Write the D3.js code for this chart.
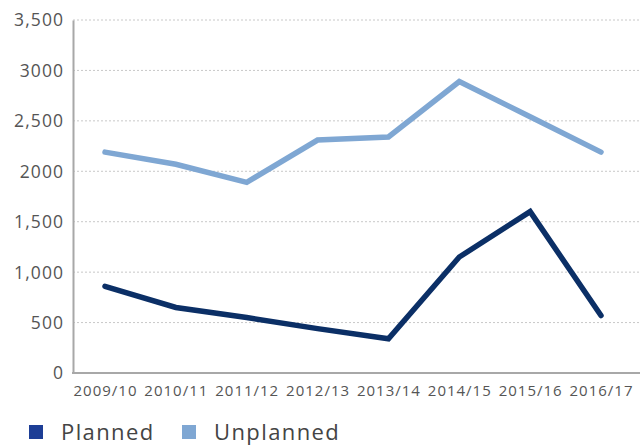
<!DOCTYPE html>
<html>
<head>
<meta charset="utf-8">
<script src="https://cdn.jsdelivr.net/npm/d3@7"></script>
<style>
  html, body { margin: 0; padding: 0; background: #fff; overflow: hidden; }
  svg { display: block; }
  text { font-family: "Open Sans", Lato, sans-serif; }
</style>
</head>
<body>
<div id="chart"></div>
<script>
// Years on the x axis
const years = ["2009/10", "2010/11", "2011/12", "2012/13", "2013/14", "2014/15", "2015/16", "2016/17"];
// Series values
const planned   = [860, 650, 550, 440, 340, 1150, 1600, 570];
const unplanned = [2190, 2070, 1890, 2310, 2340, 2890, 2540, 2190];
// Y tick values and their printed labels
const yTicks = [0, 500, 1000, 1500, 2000, 2500, 3000, 3500];
const yTickLabels = ["0", "500", "1,000", "1,500", "2000", "2,500", "3000", "3,500"];
// Legend entries
const seriesNames = ["Planned", "Unplanned"];

const W = 642, H = 445;
const plotLeft = 73, plotRight = 640, plotTop = 20, plotBottom = 373;

const svg = d3.select("#chart").append("svg")
  .attr("width", W).attr("height", H);

const x = d3.scalePoint().domain(years).range([105, 601]);
const y = d3.scaleLinear().domain([0, 3500]).range([plotBottom, plotTop]);

// dotted gridlines
svg.append("g").selectAll("line")
  .data(yTicks.filter(d => d > 0))
  .join("line")
  .attr("x1", plotLeft).attr("x2", plotRight)
  .attr("y1", d => y(d)).attr("y2", d => y(d))
  .attr("stroke", "#c8c8c8")
  .attr("stroke-width", 1)
  .attr("stroke-dasharray", "2,2");

// y axis
const yAxis = svg.append("g")
  .attr("transform", `translate(${plotLeft},0)`)
  .call(d3.axisLeft(y).tickValues(yTicks)
    .tickFormat((d, i) => yTickLabels[i]).tickSize(0).tickPadding(10));
yAxis.select(".domain").attr("stroke", "#a8a8a8").attr("stroke-width", 2);
yAxis.selectAll("text")
  .attr("fill", "#555").attr("font-size", 17.5)
  .attr("letter-spacing", 1.1).attr("dx", 1.1).attr("dy", "0.34em");

// x axis
const xAxis = svg.append("g")
  .attr("transform", `translate(0,${plotBottom})`)
  .call(d3.axisBottom(x).tickSize(0).tickPadding(12));
xAxis.select(".domain").remove();
svg.append("line")
  .attr("x1", plotLeft - 1).attr("x2", plotRight)
  .attr("y1", plotBottom).attr("y2", plotBottom)
  .attr("stroke", "#a8a8a8").attr("stroke-width", 2);
xAxis.selectAll("text")
  .attr("fill", "#555").attr("font-size", 15).attr("letter-spacing", 1);

// lines
const line = d3.line().x((d, i) => x(years[i])).y(d => y(d));
const lineColors = { planned: "#0b2f66", unplanned: "#7fa7d3" };
[["unplanned", unplanned], ["planned", planned]].forEach(([key, s]) => {
  svg.append("path")
    .datum(s)
    .attr("d", line)
    .attr("fill", "none")
    .attr("stroke", lineColors[key])
    .attr("stroke-width", 5.5)
    .attr("stroke-linejoin", "miter")
    .attr("stroke-linecap", "round");
});

// legend
const legendColors = ["#1d3e96", "#7fa7d3"];
const lg = svg.append("g");
const legendX = [29, 182];
seriesNames.forEach((name, i) => {
  lg.append("rect")
    .attr("x", legendX[i]).attr("y", 425)
    .attr("width", 14).attr("height", 14)
    .attr("fill", legendColors[i]);
  lg.append("text")
    .attr("x", legendX[i] + 32).attr("y", 440)
    .attr("fill", "#444").attr("font-size", 22)
    .attr("letter-spacing", 1.4)
    .text(name);
});
</script>
</body>
</html>
